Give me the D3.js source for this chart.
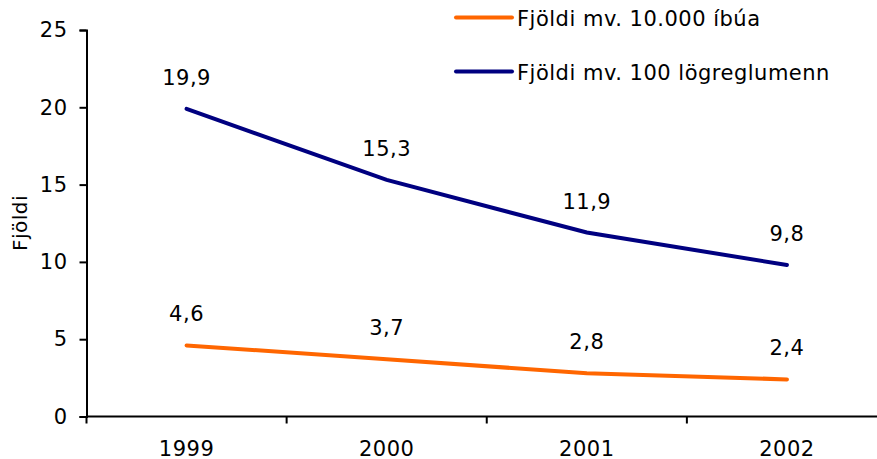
<!DOCTYPE html>
<html>
<head>
<meta charset="utf-8">
<script src="https://cdn.jsdelivr.net/npm/d3@7"></script>
<style>
  body { margin: 0; background: #fff; }
  text { font-family: "DejaVu Sans", Verdana, sans-serif; fill: #000; letter-spacing: 0.5px; }
</style>
</head>
<body>
<script>
var years = ["1999", "2000", "2001", "2002"];
var perPopulation = [4.6, 3.7, 2.8, 2.4];
var perPolice = [19.9, 15.3, 11.9, 9.8];
var yTicks = [0, 5, 10, 15, 20, 25];
var seriesNames = ["Fjöldi mv. 10.000 íbúa", "Fjöldi mv. 100 lögreglumenn"];
var seriesColors = ["#ff6600", "#000080"];

var w = 877, h = 459;
var margin = {left: 86.5, top: 30, right: -10, bottom: 42.5};
var fs = "21px";

var svg = d3.select("body")
    .append("svg")
    .attr("width", w)
    .attr("height", h);

var x = d3.scaleBand()
    .domain(years)
    .range([margin.left, w - margin.right]);

var y = d3.scaleLinear()
    .domain([0, 25])
    .range([h - margin.bottom, margin.top]);

// x axis, ticks sit between the categories
var xAxis = svg.append("g")
    .attr("transform", "translate(0," + y(0) + ")");
xAxis.append("line")
    .attr("x1", margin.left).attr("x2", w)
    .attr("stroke", "#000").attr("stroke-width", 2);
xAxis.selectAll(".tick")
    .data(years.concat(["end"]))
    .enter().append("line")
    .attr("x1", function (d, i) { return margin.left + i * x.step(); })
    .attr("x2", function (d, i) { return margin.left + i * x.step(); })
    .attr("y1", 0).attr("y2", 7)
    .attr("stroke", "#000").attr("stroke-width", 2);
xAxis.selectAll(".lbl")
    .data(years)
    .enter().append("text")
    .attr("x", function (d) { return x(d) + x.bandwidth() / 2; })
    .attr("y", 39)
    .attr("text-anchor", "middle")
    .style("font-size", fs)
    .text(function (d) { return d; });

// y axis
var yAxis = svg.append("g")
    .attr("transform", "translate(" + margin.left + ",0)")
    .call(d3.axisLeft(y).tickValues(yTicks).tickSize(7).tickPadding(12));
yAxis.select(".domain").attr("stroke-width", 2);
yAxis.selectAll(".tick line").attr("stroke-width", 2);
yAxis.selectAll("text")
    .style("font-size", fs)
    .attr("font-family", null);

svg.append("text")
    .attr("transform", "translate(27,223) rotate(-90)")
    .attr("text-anchor", "middle")
    .style("font-size", "20px")
    .text("Fjöldi");

var line = d3.line()
    .x(function (d, i) { return x(years[i]) + x.bandwidth() / 2; })
    .y(function (d) { return y(d); });

[perPopulation, perPolice].forEach(function (vals, k) {
    svg.append("path")
        .datum(vals)
        .attr("d", line)
        .attr("fill", "none")
        .attr("stroke", seriesColors[k])
        .attr("stroke-width", 4)
        .attr("stroke-linecap", "round");
    svg.append("g").selectAll("text")
        .data(vals)
        .enter().append("text")
        .attr("x", function (d, i) { return x(years[i]) + x.bandwidth() / 2; })
        .attr("y", function (d) { return y(d) - 24; })
        .attr("text-anchor", "middle")
        .style("font-size", fs)
        .text(function (d) { return String(d).replace(".", ","); });
});

// legend
var legend = svg.append("g").selectAll("g")
    .data(seriesNames)
    .enter().append("g")
    .attr("transform", function (d, i) { return "translate(456," + (17.5 + i * 54) + ")"; });
legend.append("line")
    .attr("x1", 0).attr("x2", 56)
    .attr("stroke", function (d, i) { return seriesColors[i]; })
    .attr("stroke-width", 4)
    .attr("stroke-linecap", "round");
legend.append("text")
    .attr("x", 61)
    .attr("y", 8)
    .style("font-size", fs)
    .text(function (d) { return d; });
</script>
</body>
</html>
